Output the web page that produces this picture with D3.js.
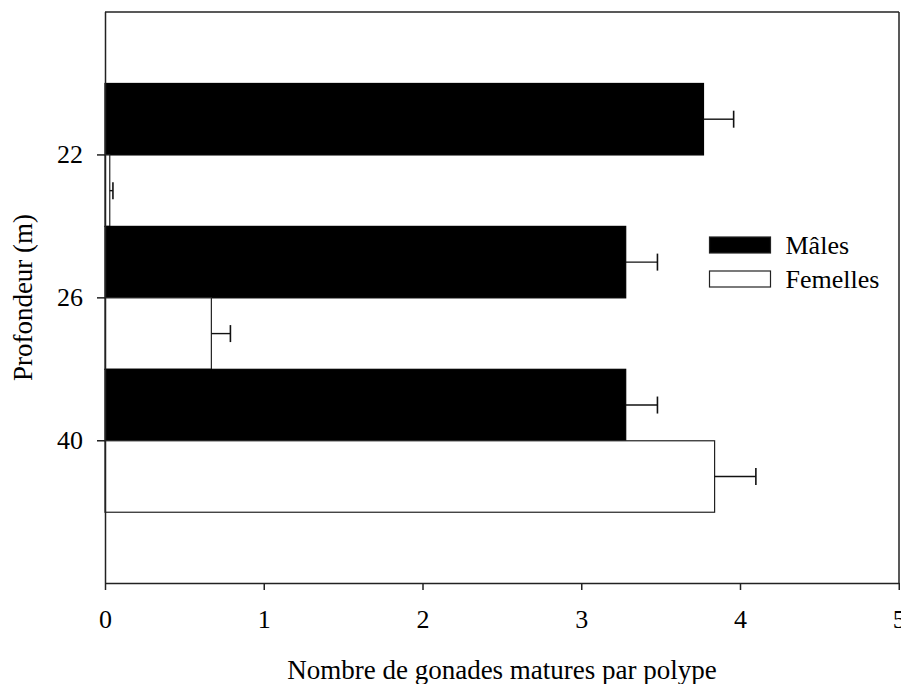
<!DOCTYPE html>
<html>
<head>
<meta charset="utf-8">
<script src="https://cdn.jsdelivr.net/npm/d3@7"></script>
<style>
  html, body { margin: 0; padding: 0; background: #fff; }
  svg { display: block; }
</style>
</head>
<body>
<svg id="chart" width="901" height="684"></svg>
<script>
// Depth classes (m) and mature gonads per polyp, mean and standard error
const depths = ["22", "26", "40"];
const sexes = ["Mâles", "Femelles"];
const malesMean = [3.77, 3.28, 3.28];
const malesSE = [0.19, 0.2, 0.2];
const femalesMean = [0.03, 0.67, 3.84];
const femalesSE = [0.02, 0.12, 0.26];
const xTicks = [0, 1, 2, 3, 4, 5];

const fills = { "Mâles": "#000", "Femelles": "#fff" };
const FONT = '"Liberation Serif"';

const rows = [];
depths.forEach((d, i) => {
  rows.push({ depth: d, sex: "Mâles", mean: malesMean[i], se: malesSE[i] });
  rows.push({ depth: d, sex: "Femelles", mean: femalesMean[i], se: femalesSE[i] });
});

const svg = d3.select("#chart");
const margin = { left: 105, right: 2, top: 12, bottom: 101 };
const W = 901, H = 684;
const plotRight = W - margin.right;
const plotBottom = H - margin.bottom;

const x = d3.scaleLinear().domain([0, 5]).range([margin.left, plotRight - 0.25]);
const y = d3.scaleBand().domain(depths).range([margin.top, plotBottom + 0.7])
  .paddingInner(0).paddingOuter(0.5);
const ySub = d3.scaleBand().domain(sexes).range([0, y.bandwidth()]).padding(0);

function serif(sel, size = 26) {
  return sel.style("font-family", FONT).style("font-size", size + "px").attr("fill", "#000");
}

// Bars
const g = svg.append("g");
g.selectAll("rect.bar")
  .data(rows)
  .join("rect")
  .attr("class", "bar")
  .attr("x", x(0))
  .attr("y", d => y(d.depth) + ySub(d.sex))
  .attr("width", d => x(d.mean) - x(0))
  .attr("height", ySub.bandwidth())
  .attr("fill", d => fills[d.sex])
  .attr("stroke", d => d.sex === "Femelles" ? "#222" : "#000")
  .attr("stroke-width", 1.2);

// Error bars (positive side only)
const capHalf = 8.5;
const midY = d => y(d.depth) + ySub(d.sex) + ySub.bandwidth() / 2;
const eb = g.selectAll("g.err").data(rows).join("g").attr("class", "err");
eb.append("line")
  .attr("x1", d => x(d.mean))
  .attr("x2", d => x(d.mean + d.se))
  .attr("y1", midY)
  .attr("y2", midY)
  .attr("stroke", "#111").attr("stroke-width", 1.4);
eb.append("line")
  .attr("x1", d => x(d.mean + d.se))
  .attr("x2", d => x(d.mean + d.se))
  .attr("y1", d => midY(d) - capHalf)
  .attr("y2", d => midY(d) + capHalf)
  .attr("stroke", "#111").attr("stroke-width", 1.6);

// Frame: top and right borders
svg.append("line")
  .attr("x1", margin.left).attr("x2", plotRight)
  .attr("y1", margin.top).attr("y2", margin.top)
  .attr("stroke", "#222").attr("stroke-width", 1.5);
svg.append("line")
  .attr("x1", plotRight).attr("x2", plotRight)
  .attr("y1", margin.top).attr("y2", plotBottom)
  .attr("stroke", "#222").attr("stroke-width", 1.5);

// Axes
const xAxis = d3.axisBottom(x).tickValues(xTicks).tickFormat(d3.format("d"))
  .tickSize(7).tickPadding(20).tickSizeOuter(0);
const gx = svg.append("g").attr("transform", `translate(0,${plotBottom})`).call(xAxis);
gx.attr("font-family", null).attr("font-size", null);
gx.select(".domain").attr("stroke", "#222").attr("stroke-width", 1.5);
gx.selectAll(".tick line").attr("stroke", "#222").attr("stroke-width", 1.5);
gx.selectAll(".tick text").call(serif);

const yAxis = d3.axisLeft(y).tickSize(8).tickPadding(14).tickSizeOuter(0);
const gy = svg.append("g").attr("transform", `translate(${margin.left},0)`).call(yAxis);
gy.attr("font-family", null).attr("font-size", null);
gy.select(".domain").attr("d", `M0.5,${margin.top}V${plotBottom}`)
  .attr("stroke", "#222").attr("stroke-width", 1.5);
gy.selectAll(".tick line").attr("stroke", "#222").attr("stroke-width", 1.5);
gy.selectAll(".tick text").call(serif);

// Axis titles
svg.append("text")
  .attr("x", (margin.left + plotRight) / 2).attr("y", 679)
  .attr("text-anchor", "middle")
  .call(serif, 27)
  .text("Nombre de gonades matures par polype");

svg.append("text")
  .attr("transform", "translate(32,297.5) rotate(-90)")
  .attr("text-anchor", "middle")
  .call(serif, 27)
  .text("Profondeur (m)");

// Legend
const legend = svg.append("g").attr("transform", "translate(709.5,237)");
sexes.forEach((s, i) => {
  const row = legend.append("g").attr("transform", `translate(0,${i * 34})`);
  row.append("rect")
    .attr("x", 0).attr("y", 0).attr("width", 61).attr("height", 16)
    .attr("fill", fills[s]).attr("stroke", "#222").attr("stroke-width", 1.2);
  row.append("text")
    .attr("x", 76).attr("y", 16.5)
    .call(serif)
    .text(s);
});
</script>
</body>
</html>
